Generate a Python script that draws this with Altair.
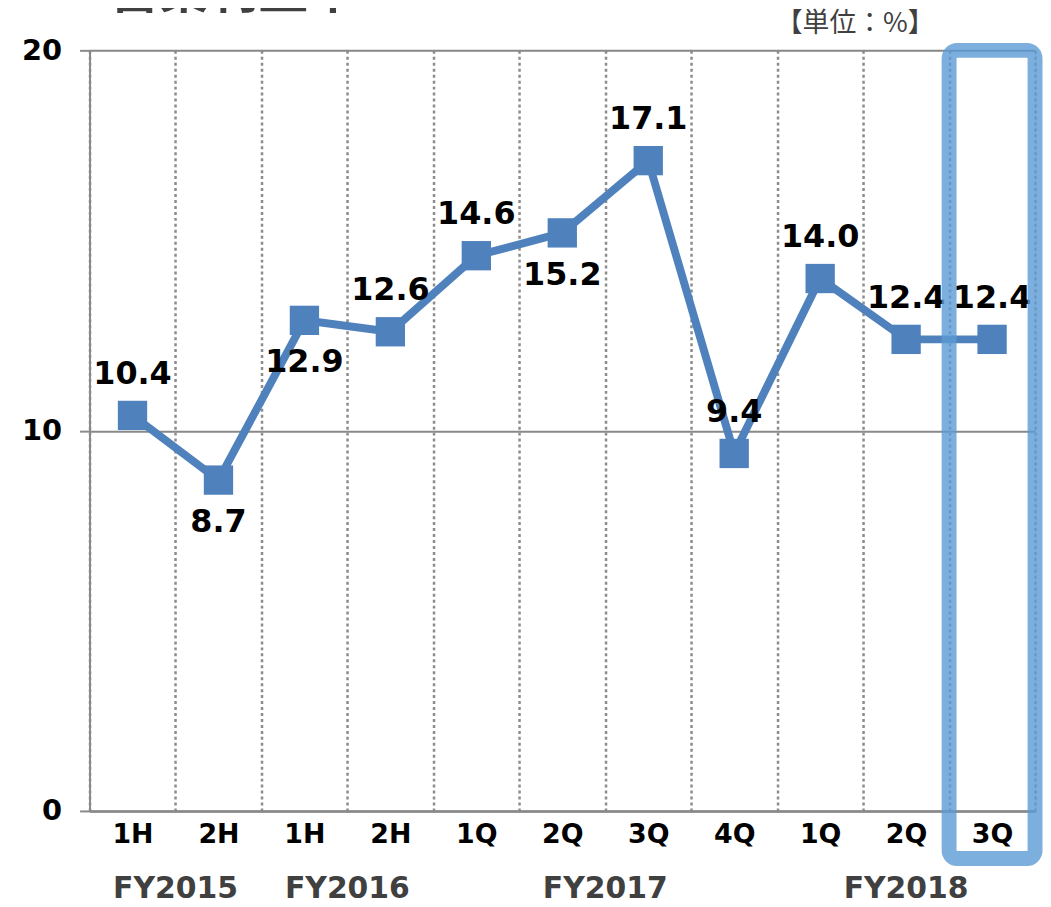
import altair as alt
import pandas as pd

periods = ["1H", "2H", "1H", "2H", "1Q", "2Q", "3Q", "4Q", "1Q", "2Q", "3Q"]
fiscal = ["FY2015", "FY2015", "FY2016", "FY2016", "FY2017", "FY2017", "FY2017",
          "FY2017", "FY2018", "FY2018", "FY2018"]
values = [10.4, 8.7, 12.9, 12.6, 14.6, 15.2, 17.1, 9.4, 14.0, 12.4, 12.4]
label_side = ["above", "below", "below", "above", "above", "below", "above",
              "above", "above", "above", "above"]
title_text = "営業利益率"
unit_text = "【単位：%】"
highlight_key = "FY2018-3Q"

keys = [f + "-" + p for f, p in zip(fiscal, periods)]
df = pd.DataFrame({"key": keys, "period": periods, "fiscal": fiscal,
                   "value": values, "side": label_side})

BLUE = "#4F81BD"
GRID = "#898989"
NUMFONT = "DejaVu Sans"
JPFONT = "Noto Sans CJK JP"

x_enc = alt.X("key:N", sort=keys,
              scale=alt.Scale(domain=keys, paddingInner=0, paddingOuter=0),
              axis=alt.Axis(title=None, labelExpr="split(datum.label, '-')[1]",
                            labelAngle=0, labelFont=NUMFONT, labelFontWeight="bold",
                            labelFontSize=27, labelColor="black", labelPadding=11,
                            ticks=False, tickBand="extent",
                            domainColor=GRID, domainWidth=2.5,
                            grid=True, gridDash=[3, 3], gridColor="#8c8c8c",
                            gridWidth=2.5))
y_enc = alt.Y("value:Q",
              scale=alt.Scale(domain=[0, 20], nice=False, zero=True),
              axis=alt.Axis(title=None, values=[0, 10, 20], grid=True,
                            gridColor=GRID, gridWidth=2, tickSize=10,
                            tickColor=GRID, tickWidth=2, domainColor=GRID,
                            domainWidth=2, labelFont=NUMFONT,
                            labelFontWeight="bold", labelFontSize=29,
                            labelColor="black", labelPadding=18))

base = alt.Chart(df).encode(x=x_enc, y=y_enc)

line = base.mark_line(color=BLUE, strokeWidth=8)
points = base.mark_point(shape="square", filled=True, size=870, color=BLUE,
                         opacity=1, strokeWidth=0)

above = base.transform_filter(alt.datum.side == "above").mark_text(
    font=NUMFONT, fontWeight="bold", fontSize=32, color="black",
    baseline="middle", dy=-42).encode(text=alt.Text("value:Q", format=".1f"))
below = base.transform_filter(alt.datum.side == "below").mark_text(
    font=NUMFONT, fontWeight="bold", fontSize=32, color="black",
    baseline="middle", dy=42).encode(text=alt.Text("value:Q", format=".1f"))

highlight = alt.Chart(df).transform_filter(alt.datum.key == highlight_key).mark_rect(
    fill=None, fillOpacity=0, stroke="#5B9BD5", strokeOpacity=0.8,
    strokeWidth=15, cornerRadius=8, clip=False).encode(
    x=alt.X("key:N", sort=keys), y=alt.datum(20), y2=alt.datum(-1.25))

title_layer = alt.Chart(pd.DataFrame({"t": [title_text]})).mark_text(
    font=JPFONT, fontWeight="bold", fontSize=50, color="#404040",
    align="left", baseline="alphabetic").encode(
    x=alt.value(20), y=alt.value(-43), text="t:N")

unit_layer = alt.Chart(pd.DataFrame({"t": [unit_text]})).mark_text(
    font=JPFONT, fontSize=27, color="#404040",
    align="right", baseline="middle").encode(
    x=alt.value(850), y=alt.value(-26), text="t:N")

inner = alt.layer(line, points, above, below, title_layer, unit_layer, highlight)

fy_layer = alt.Chart(df).transform_window(idx="row_number()").transform_aggregate(
    pos="mean(idx)", groupby=["fiscal"]).mark_text(
    font=NUMFONT, fontWeight="bold", fontSize=30, color="#404040",
    baseline="middle").encode(
    x=alt.X("pos:Q", scale=alt.Scale(domain=[0.5, 11.5], nice=False, zero=False),
            axis=None),
    y=alt.value(844), text="fiscal:N")

chart = alt.layer(inner, fy_layer).resolve_scale(x="independent").properties(
    width=951, height=765,
    autosize=alt.AutoSizeParams(type="none"),
    padding={"left": 82, "top": 40, "right": 8, "bottom": 91},
).configure_view(stroke=None).configure(background="white")

chart.save("out.html", embed_options={"renderer": "svg", "actions": False})
